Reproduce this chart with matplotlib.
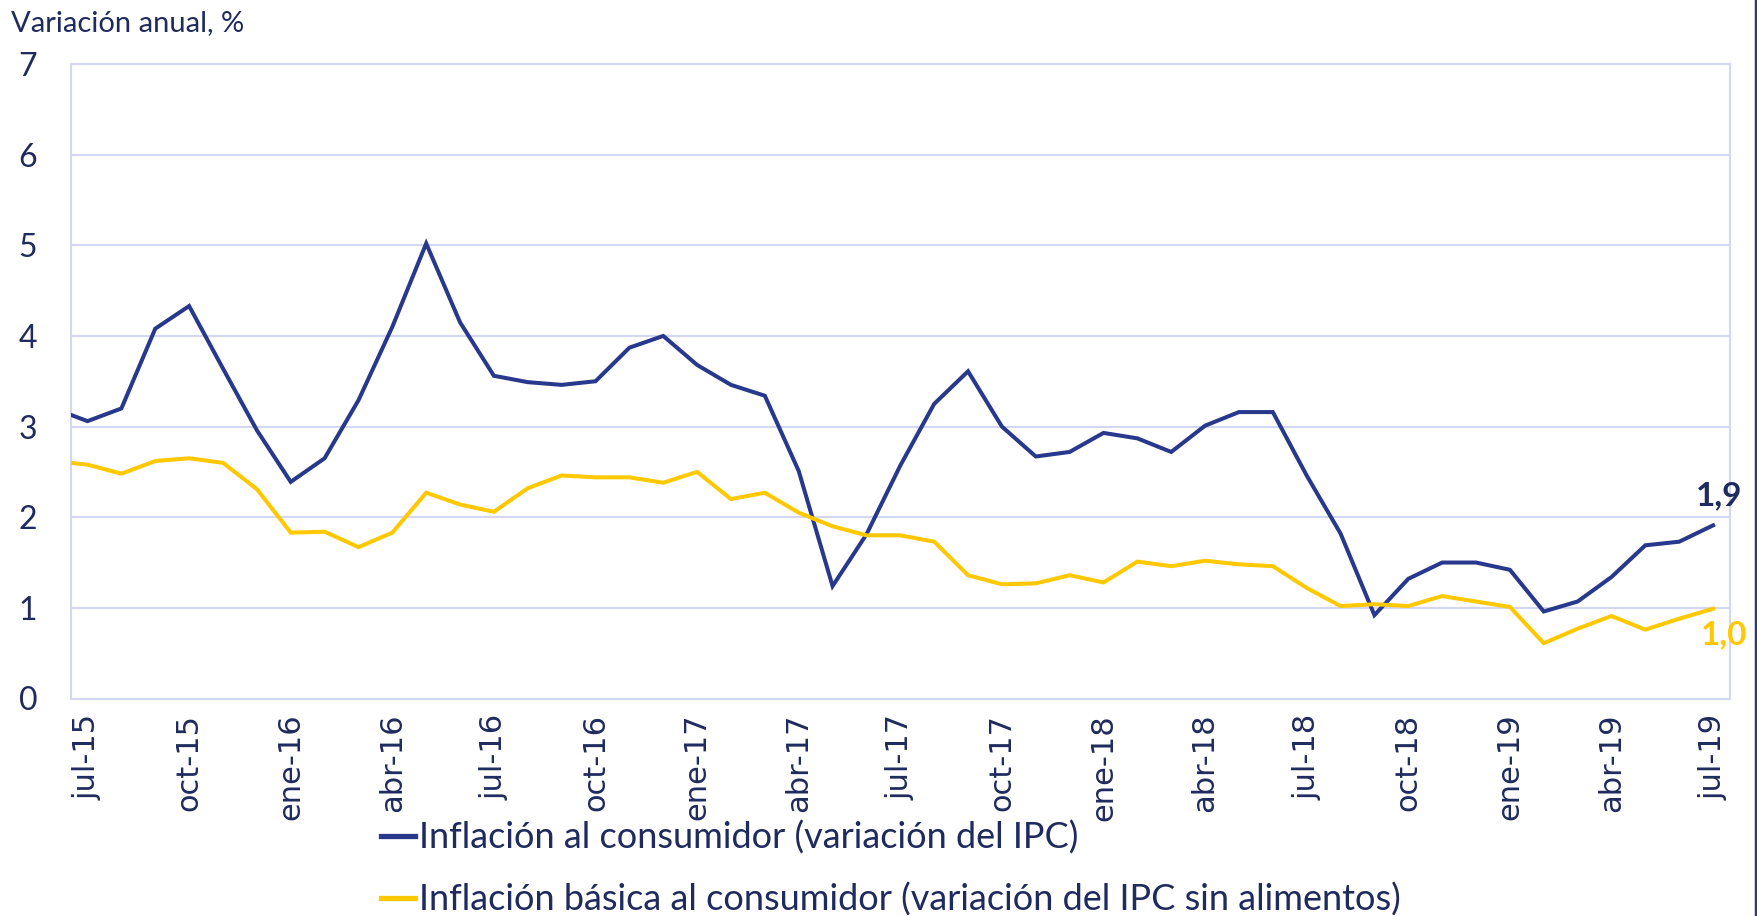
import matplotlib
matplotlib.use("Agg")
import matplotlib.pyplot as plt
from matplotlib.lines import Line2D
import numpy as np

# ---- data (jun-15 .. jul-19, monthly; jun-15 only partly visible) ----
month_index = list(range(-1, 49))
ipc = [3.20, 3.06, 3.20, 4.08, 4.33, 3.64, 2.96, 2.39, 2.65, 3.29, 4.10, 5.02,
       4.15, 3.56, 3.49, 3.46, 3.50, 3.87, 4.00, 3.68, 3.46, 3.34, 2.51, 1.24,
       1.81, 2.57, 3.25, 3.61, 3.00, 2.67, 2.72, 2.93, 2.87, 2.72, 3.01, 3.16,
       3.16, 2.46, 1.82, 0.92, 1.32, 1.50, 1.50, 1.42, 0.96, 1.07, 1.34, 1.69,
       1.73, 1.91]
ipc_basica = [2.62, 2.58, 2.48, 2.62, 2.65, 2.60, 2.31, 1.83, 1.84, 1.67, 1.83, 2.27,
              2.14, 2.06, 2.32, 2.46, 2.44, 2.44, 2.38, 2.50, 2.20, 2.27, 2.05, 1.90,
              1.80, 1.80, 1.73, 1.36, 1.26, 1.27, 1.36, 1.28, 1.51, 1.46, 1.52, 1.48,
              1.46, 1.22, 1.02, 1.04, 1.02, 1.13, 1.07, 1.01, 0.61, 0.77, 0.91, 0.76,
              0.88, 0.99]
tick_pos = list(range(0, 49, 3))
tick_labels = ["jul-15", "oct-15", "ene-16", "abr-16", "jul-16", "oct-16", "ene-17",
               "abr-17", "jul-17", "oct-17", "ene-18", "abr-18", "jul-18", "oct-18",
               "ene-19", "abr-19", "jul-19"]
y_ticks = [0, 1, 2, 3, 4, 5, 6, 7]
series_names = ["Inflación al consumidor (variación del IPC)",
                "Inflación básica al consumidor (variación del IPC sin alimentos)"]

NAVY = "#1f2a5e"
BLUE = "#28388c"
GOLD = "#ffc800"
GRID = "#d3d7f2"

W, H = 1758, 916
fig = plt.figure(figsize=(W / 100, H / 100), dpi=100)
ax = fig.add_axes([70.6 / W, 1 - 698.5 / H, (1730 - 70.6) / W, (698.5 - 64) / H])

l1, = ax.plot(month_index, ipc, color=BLUE, lw=2.9, solid_joinstyle="miter", zorder=3)
l2, = ax.plot(month_index, ipc_basica, color=GOLD, lw=2.9, solid_joinstyle="miter", zorder=3)

ax.set_xlim(-0.5, 48.5)
ax.set_ylim(0, 7)
ax.set_yticks(y_ticks)
ax.set_yticklabels([str(v) for v in y_ticks], fontsize=23, color=NAVY, family="Lato")
ax.set_xticks(tick_pos)
ax.set_xticklabels(tick_labels, rotation=90, fontsize=22, color=NAVY, family="DejaVu Sans")
ax.tick_params(axis="both", length=0)
ax.tick_params(axis="y", pad=24)
ax.tick_params(axis="x", pad=11)
ax.grid(axis="y", color=GRID, lw=1.5)
ax.set_axisbelow(True)
for s in ["left", "right", "top", "bottom"]:
    ax.spines[s].set_color(GRID)
    ax.spines[s].set_linewidth(1.5)

# end labels
ax.annotate(f"{ipc[-1]:.1f}".replace(".", ","), xy=(month_index[-1], ipc[-1]),
            xytext=(4, 21), textcoords="offset points", ha="center", va="center",
            fontsize=24, fontweight="bold", color=NAVY, family="Lato")
ax.annotate(f"{ipc_basica[-1]:.1f}".replace(".", ","), xy=(month_index[-1], ipc_basica[-1]),
            xytext=(8, -19), textcoords="offset points", ha="center", va="center",
            fontsize=24, fontweight="bold", color=GOLD, family="Lato", clip_on=False)

fig.text(11 / W, 1 - 23 / H, "Variación anual, %", fontsize=21, color=NAVY,
         family="Lato", ha="left", va="center")

handles = [Line2D([], [], color=BLUE, lw=3.8), Line2D([], [], color=GOLD, lw=3.8)]
fig.legend(handles, series_names, loc="upper left", bbox_to_anchor=(381 / W, 1 - 821 / H),
           frameon=False, handlelength=0.95, handletextpad=0.1,
           labelspacing=0.76, borderpad=0, borderaxespad=0,
           labelcolor=NAVY, prop={"family": "Lato", "size": 26})

# right border line
fig.add_artist(Line2D([1756 / W, 1756 / W], [0, 1], color=BLUE, lw=2.5,
                      transform=fig.transFigure))

fig.savefig("out.png", dpi=100, facecolor="white")
